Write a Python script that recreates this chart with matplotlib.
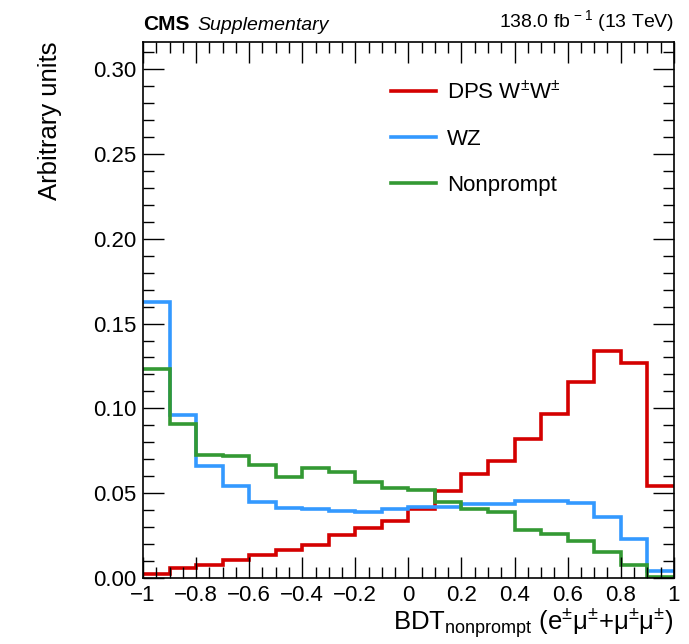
import numpy as np
import matplotlib
matplotlib.use("Agg")
import matplotlib.pyplot as plt
from matplotlib.ticker import MultipleLocator, FuncFormatter

plt.rcParams['font.family'] = ['Liberation Sans', 'DejaVu Sans']
plt.rcParams['mathtext.fontset'] = 'custom'
plt.rcParams['mathtext.rm'] = 'Liberation Sans'
plt.rcParams['mathtext.it'] = 'Liberation Sans:italic'

# bin edges of BDT score
edges = np.linspace(-1.0, 1.0, 21)

dps_ww = [0.0024, 0.0060, 0.0077, 0.0107, 0.0137, 0.0167, 0.0192, 0.0254, 0.0292, 0.0336,
          0.0405, 0.0510, 0.0615, 0.0688, 0.0821, 0.0966, 0.1155, 0.1337, 0.1270, 0.0545]
wz = [0.1630, 0.0960, 0.0663, 0.0540, 0.0446, 0.0410, 0.0405, 0.0397, 0.0390, 0.0408,
      0.0420, 0.0420, 0.0436, 0.0436, 0.0456, 0.0456, 0.0440, 0.0360, 0.0232, 0.0043]
nonprompt = [0.1230, 0.0907, 0.0724, 0.0718, 0.0664, 0.0593, 0.0649, 0.0623, 0.0563, 0.0531,
             0.0520, 0.0450, 0.0407, 0.0390, 0.0282, 0.0262, 0.0216, 0.0153, 0.0077, 0.0008]

labels = [r"DPS W$^{\pm}$W$^{\pm}$", "WZ", "Nonprompt"]
colors = ["#d40000", "#3399ff", "#339933"]

fig = plt.figure(figsize=(6.89, 6.44), dpi=100)
ax = fig.add_axes([0.2075, 0.1025, 0.7705, 0.8323])

for vals, lab, col in zip([dps_ww, wz, nonprompt], labels, colors):
    ax.stairs(vals, edges, color=col, lw=2.6, label=lab, baseline=None)

ax.set_xlim(-1, 1)
ax.set_ylim(0, 0.316)

ax.xaxis.set_major_locator(MultipleLocator(0.2))
ax.xaxis.set_minor_locator(MultipleLocator(0.05))
ax.yaxis.set_major_locator(MultipleLocator(0.05))
ax.yaxis.set_minor_locator(MultipleLocator(0.01))

def xfmt(v, pos):
    s = "%g" % round(v, 2)
    if s == "-0":
        s = "0"
    return s.replace("-", "\u2212")

ax.xaxis.set_major_formatter(FuncFormatter(xfmt))
ax.yaxis.set_major_formatter(FuncFormatter(lambda v, p: "%.2f" % v))

ax.tick_params(which='both', direction='in', top=True, right=True, labelsize=16, width=1)
ax.tick_params(which='major', length=15, pad=5)
ax.tick_params(which='minor', length=8)
for s in ax.spines.values():
    s.set_linewidth(1.2)

ax.set_xlabel(r"BDT$_{\mathrm{nonprompt}}$ (e$^{\pm}$$\mathrm{\mu}^{\pm}$+$\mathrm{\mu}^{\pm}$$\mathrm{\mu}^{\pm}$)",
              fontsize=18.5, loc='right', labelpad=0)
ax.set_ylabel("Arbitrary units", fontsize=18.5, loc='top', labelpad=22)

ax.text(0.0, 1.014, "CMS", transform=ax.transAxes, fontsize=15, fontweight='bold',
        ha='left', va='bottom')
ax.text(0.102, 1.014, "Supplementary", transform=ax.transAxes, fontsize=14, style='italic',
        ha='left', va='bottom')
ax.text(1.0, 1.014, r"138.0 fb$^{\,-1}$ (13 TeV)", transform=ax.transAxes, fontsize=14,
        ha='right', va='bottom')

leg = ax.legend(loc='upper left', bbox_to_anchor=(0.43, 0.965), frameon=False, fontsize=16,
                handlelength=2.0, handletextpad=0.5, labelspacing=1.12)
for h in leg.get_lines():
    h.set_linewidth(2.6)

fig.savefig("out.png", dpi=100)
